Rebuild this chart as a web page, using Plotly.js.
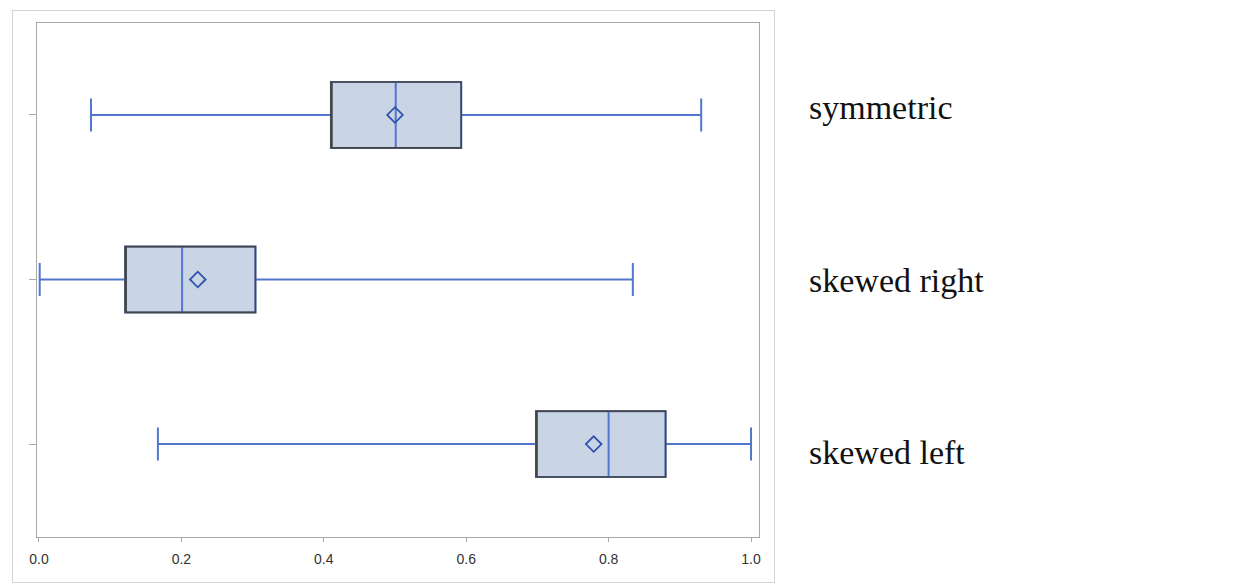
<!DOCTYPE html>
<html>
<head>
<meta charset="utf-8">
<script src="https://cdn.plot.ly/plotly-3.0.1.min.js"></script>
<style>
  html, body { margin: 0; padding: 0; background: #ffffff; }
  #wrap { position: relative; width: 1248px; height: 585px; }
  #frame { position: absolute; left: 12px; top: 10px; width: 763px; height: 573px;
           box-sizing: border-box; border: 1px solid #D3D3D3; pointer-events: none; z-index: 5; }
  #chart { position: absolute; left: 0; top: 0; width: 1248px; height: 585px; }
</style>
</head>
<body>
<div id="wrap">
  <div id="chart"></div>
  <div id="frame"></div>
</div>
<script>
// Categories (top to bottom) and their positions on the value axis
const categories = ["symmetric", "skewed right", "skewed left"];
const positions  = [2, 1, 0];
// Vertical positions of the side labels (in the same axis units)
const labelPositions = [2.043, 0.994, -0.049];

// Box statistics
const lowerWhisker = [0.073, 0.001, 0.167];
const q1Values     = [0.410, 0.121, 0.698];
const medianValues = [0.501, 0.201, 0.800];
const q3Values     = [0.593, 0.304, 0.880];
const upperWhisker = [0.930, 0.834, 1.000];
const meanValues   = [0.500, 0.223, 0.779];

// Axis ticks
const xTickValues = [0.0, 0.2, 0.4, 0.6, 0.8, 1.0];
const xTickLabels = ["0.0", "0.2", "0.4", "0.6", "0.8", "1.0"];

const blue = "#5177CC";
const traces = [
  {
    type: "box", orientation: "h",
    y: positions, q1: q1Values, median: medianValues, q3: q3Values,
    lowerfence: lowerWhisker, upperfence: upperWhisker,
    width: 0.4, whiskerwidth: 0.5,
    fillcolor: "#C9D5E5",
    line: { color: blue, width: 2 },
    boxpoints: false, hoverinfo: "skip", showlegend: false
  },
  {
    // dark outline of the boxes (median placed on Q1 edge, no whiskers)
    type: "box", orientation: "h",
    y: positions, q1: q1Values, median: q1Values, q3: q3Values,
    lowerfence: q1Values, upperfence: q3Values,
    width: 0.4, whiskerwidth: 0.0,
    fillcolor: "rgba(0,0,0,0)",
    line: { color: "#454545", width: 1.6 },
    boxpoints: false, hoverinfo: "skip", showlegend: false
  },
  {
    type: "scatter", mode: "markers",
    x: meanValues, y: positions,
    marker: { symbol: "diamond-open", size: 12, color: "#2E52B0", line: { width: 1.8, color: "#2E52B0" } },
    hoverinfo: "skip", showlegend: false
  }
];

const annotations = categories.map((c, i) => ({
  text: c, xref: "paper", yref: "y", x: 1.0665, y: labelPositions[i],
  xanchor: "left", yanchor: "middle", showarrow: false,
  font: { family: "Liberation Serif, Times New Roman, serif", size: 34, color: "#111111" }
}));

const layout = {
  width: 1248, height: 585,
  margin: { l: 37, r: 489, t: 23, b: 48, pad: 0 },
  paper_bgcolor: "#ffffff", plot_bgcolor: "#ffffff",
  boxmode: "overlay",
  showlegend: false,
  xaxis: {
    range: [-0.0028, 1.0112],
    tickvals: xTickValues, ticktext: xTickLabels,
    ticks: "outside", ticklen: 4, tickcolor: "#A8A8A8", tickwidth: 1,
    ticklabelstandoff: 5,
    showline: true, mirror: true, linecolor: "#A8A8A8", linewidth: 1,
    showgrid: false, zeroline: false,
    tickfont: { family: "Liberation Sans, Arial, sans-serif", size: 14, color: "#333333" }
  },
  yaxis: {
    range: [-0.565, 2.559],
    tickvals: positions, showticklabels: false,
    ticks: "outside", ticklen: 7, tickcolor: "#A8A8A8", tickwidth: 1,
    showline: true, mirror: true, linecolor: "#A8A8A8", linewidth: 1,
    showgrid: false, zeroline: false
  },
  annotations: annotations
};

Plotly.newPlot("chart", traces, layout, { staticPlot: true, displayModeBar: false });
</script>
</body>
</html>
